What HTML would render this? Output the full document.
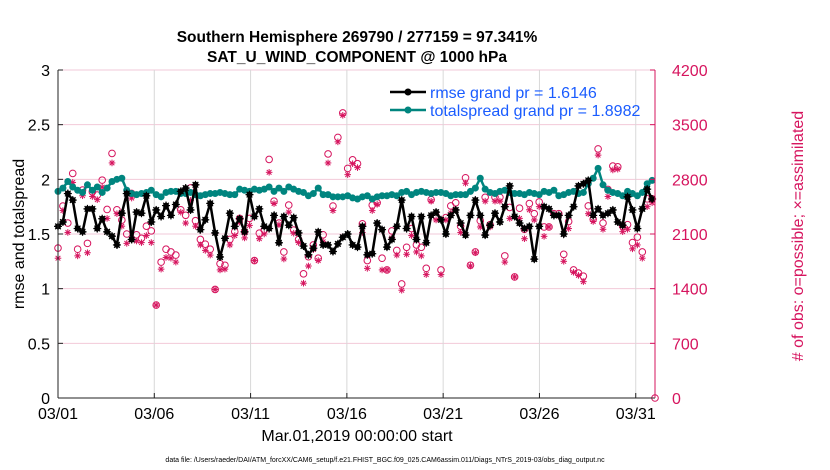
<!DOCTYPE html>
<html><head><meta charset="utf-8">
<style>
body{margin:0;background:#fff;}
svg{display:block;font-family:"Liberation Sans",sans-serif;}
</style></head>
<body>
<svg id="chart" width="830" height="470" viewBox="0 0 830 470" xmlns="http://www.w3.org/2000/svg">
<rect width="830" height="470" fill="#fff"/>
<g id="grid"></g>
<g id="marks"></g>
<g id="axes"></g>
<text x="357" y="42" text-anchor="middle" font-size="15.5" font-weight="bold">Southern Hemisphere 269790 / 277159 = 97.341%</text>
<text x="357" y="62" text-anchor="middle" font-size="15.5" font-weight="bold">SAT_U_WIND_COMPONENT @ 1000 hPa</text>
<text x="0" y="0" transform="translate(24,234) rotate(-90)" text-anchor="middle" font-size="16">rmse and totalspread</text>
<text x="0" y="0" transform="translate(803,236) rotate(-90)" text-anchor="middle" font-size="16" fill="#d6145e"># of obs: o=possible; ×=assimilated</text>
<text x="357" y="441" text-anchor="middle" font-size="16">Mar.01,2019 00:00:00 start</text>
<text x="385" y="462" text-anchor="middle" font-size="7">data file: /Users/raeder/DAI/ATM_forcXX/CAM6_setup/f.e21.FHIST_BGC.f09_025.CAM6assim.011/Diags_NTrS_2019-03/obs_diag_output.nc</text>
<g id="legend"></g>
</svg>
<script>
const rmse=[1.57,1.61,1.87,1.81,1.55,1.52,1.73,1.73,1.55,1.64,1.52,1.48,1.40,1.69,1.87,1.45,1.70,1.69,1.85,1.61,1.72,1.66,1.76,1.67,1.77,1.89,1.92,1.72,1.95,1.54,1.63,
1.78,1.51,1.29,1.46,1.69,1.57,1.64,1.52,1.86,1.66,1.73,1.57,1.55,1.67,1.42,1.66,1.58,1.65,1.51,1.39,1.31,1.37,1.52,1.40,1.40,1.34,1.41,
1.47,1.50,1.40,1.38,1.57,1.31,1.32,1.60,1.54,1.38,1.45,1.57,1.81,1.55,1.66,1.45,1.66,1.42,1.67,1.70,1.63,1.50,1.67,1.72,1.60,1.49,1.67,1.81,1.67,1.49,1.58,1.69,
1.61,1.75,1.94,1.66,1.60,1.55,1.57,1.27,1.57,1.75,1.73,1.67,1.67,1.50,1.67,1.75,1.94,1.96,1.99,1.67,1.73,1.67,1.69,1.72,1.61,1.58,1.84,1.72,1.55,1.73,1.91,1.82];
const spread=[1.89,1.92,1.98,1.93,1.90,1.88,1.95,1.90,1.93,1.88,1.92,1.98,2.00,2.01,1.90,1.87,1.86,1.87,1.88,1.90,1.86,1.84,1.88,1.89,1.89,1.87,1.87,1.88,1.86,1.85,1.86,
1.87,1.87,1.88,1.87,1.86,1.86,1.91,1.90,1.89,1.91,1.90,1.91,1.93,1.89,1.92,1.89,1.93,1.91,1.89,1.88,1.85,1.87,1.92,1.86,1.86,1.84,1.84,
1.84,1.85,1.83,1.82,1.84,1.85,1.82,1.84,1.85,1.85,1.86,1.85,1.88,1.89,1.86,1.88,1.89,1.88,1.87,1.88,1.88,1.87,1.85,1.86,1.86,1.86,1.89,1.92,2.01,1.91,1.88,1.87,
1.89,1.90,1.88,1.87,1.87,1.86,1.88,1.87,1.86,1.89,1.88,1.90,1.85,1.86,1.88,1.89,1.87,1.88,1.96,2.01,2.10,1.95,1.90,1.88,1.87,1.85,1.89,1.87,1.85,1.88,1.96,1.99];
const possible=[1920,2458,2240,2876,1905,2662,1980,2640,2598,2790,2414,3132,2410,2278,2100,2620,2090,2045,2200,2140,1190,1740,1905,1870,1830,2410,2340,2690,2270,2030,1970,
1905,1390,1720,1700,2030,2130,2300,2130,2300,1760,2110,2150,3055,2520,2240,1870,2470,2150,2030,1590,1810,1960,1790,2090,3125,2458,3337,
3650,2940,3050,3000,2230,1760,2470,2500,1790,1640,2140,1890,1460,1930,2170,1960,1930,1660,2540,2330,1640,2310,2460,2500,2200,2820,1700,1870,2270,2570,2220,2570,
2570,1820,2440,1550,2430,2160,2490,2360,2510,2190,2190,2360,2360,1840,2260,1640,1600,1560,2460,2290,3190,2240,2670,2970,2960,2200,2220,1990,2060,1870,2550,2550,0];
const assimilated=[1790,2400,2120,2760,1820,2590,1860,2580,2540,2700,2300,3010,2360,2200,1980,2560,2010,1990,2080,1990,1190,1650,1800,1790,1740,2380,2240,2530,2200,1960,1890,
1830,1390,1640,1650,1960,2080,2250,2050,2210,1760,2040,2100,2890,2490,2220,1780,2380,2110,1990,1470,1690,1900,1760,2000,3010,2400,3280,
3620,2860,3000,2950,2120,1660,2400,2480,1640,1640,2050,1830,1380,1840,2080,1870,1820,1580,2520,2280,1580,2280,2370,2410,2120,2750,1690,1860,2190,2520,2190,2520,
2520,1740,2300,1550,2300,2040,2410,2280,2450,2070,2190,2350,2330,1750,2170,1610,1570,1490,2360,2260,3110,2160,2580,2920,2930,2130,2160,1910,1960,1790,2450,2500];
const xTickDays=[0,5,10,15,20,25,30];
const xTickLabels=["03/01","03/06","03/11","03/16","03/21","03/26","03/31"];
const leftTicks=[0,0.5,1,1.5,2,2.5,3];
const leftTickLabels=["0","0.5","1","1.5","2","2.5","3"];
const rightTicks=[0,700,1400,2100,2800,3500,4200];
const legendLabels=["rmse grand pr = 1.6146","totalspread grand pr = 1.8982"];

const NS="http://www.w3.org/2000/svg";
const X0=58,X1=655,Y0=398,Y1=70,RED="#d6145e",TEAL="#00857f";
const xs=d=>X0+(d/31)*(X1-X0);
const yL=v=>Y0-(v/3)*(Y0-Y1);
const yR=v=>Y0-(v/4200)*(Y0-Y1);
const dayOf=i=>i*30.85/121;
function mk(tag,attrs,parent){const e=document.createElementNS(NS,tag);for(const k in attrs)e.setAttribute(k,attrs[k]);parent.appendChild(e);return e;}
const grid=document.getElementById('grid'),marks=document.getElementById('marks'),axes=document.getElementById('axes'),legend=document.getElementById('legend');

leftTicks.forEach((t,i)=>{
  const g=mk('line',{x1:X0,x2:X1,y1:yL(t),y2:yL(t),stroke:"#f2c9d8","stroke-width":1},grid);
  
  
  const tk=mk('line',{x1:X0,x2:X0+5,y1:yL(t),y2:yL(t),stroke:"#222"},axes);
  
  
  const tx=mk('text',{x:X0-8,y:yL(t)+6,"text-anchor":"end","font-size":16},axes);
  tx.textContent=leftTickLabels[i];
  
  
});
rightTicks.forEach(t=>{
  const tk=mk('line',{x1:X1-5,x2:X1,y1:yR(t),y2:yR(t),stroke:RED},axes);
  
  
  const tx=mk('text',{x:X1+17,y:yR(t)+6,"font-size":16,fill:RED},axes);
  tx.textContent=String(t);
  
  
});
xTickDays.forEach((d,i)=>{
  const g=mk('line',{x1:xs(d),x2:xs(d),y1:Y1,y2:Y0,stroke:"#d8d8d8","stroke-width":1},grid);
  
  
  const tk=mk('line',{x1:xs(d),x2:xs(d),y1:Y0,y2:Y0-5,stroke:"#222"},axes);
  
  
  const tx=mk('text',{x:xs(d),y:Y0+21,"text-anchor":"middle","font-size":16},axes);
  tx.textContent=xTickLabels[i];
  
  
});
[[X0,Y0,X1,Y0,"#222"],[X0,Y1,X0,Y0,"#222"],[X1,Y1,X1,Y0,RED]].forEach(a=>{
  const l=mk('line',{x1:a[0],y1:a[1],x2:a[2],y2:a[3],stroke:a[4],"stroke-width":1},axes);
  
  
});

function star(cx,cy,r,color,parent,sw){
  const g=mk('g',{stroke:color,"stroke-width":sw},parent);
  for(let k=0;k<4;k++){const a=k*Math.PI/4;mk('line',{x1:cx-r*Math.cos(a),y1:cy-r*Math.sin(a),x2:cx+r*Math.cos(a),y2:cy+r*Math.sin(a)},g);}
  return g;
}
possible.forEach((v,i)=>{
  const d=i<122?dayOf(i):31;
  const c=mk('circle',{cx:xs(d),cy:yR(v),r:3.3,fill:"none",stroke:RED,"stroke-width":1},marks);
  
  
});
assimilated.forEach((v,i)=>{
  const s=star(xs(dayOf(i)),yR(v),3.3,RED,marks,1);
  
  
});
const sp=mk('polyline',{points:spread.map((v,i)=>xs(dayOf(i))+","+yL(v)).join(" "),fill:"none",stroke:TEAL,"stroke-width":2.5},marks);


spread.forEach((v,i)=>{
  const c=mk('circle',{cx:xs(dayOf(i)),cy:yL(v),r:3.5,fill:TEAL},marks);
  
  
});
const rl=mk('polyline',{points:rmse.map((v,i)=>xs(dayOf(i))+","+yL(v)).join(" "),fill:"none",stroke:"#000","stroke-width":2.5},marks);


rmse.forEach((v,i)=>{
  const c=mk('circle',{cx:xs(dayOf(i)),cy:yL(v),r:3,fill:"#000"},marks);
  
  
  star(xs(dayOf(i)),yL(v),4,"#000",marks,1.2);
});
[["#000",92],[TEAL,110]].forEach((e,i)=>{
  const l=mk('line',{x1:390,x2:426,y1:e[1],y2:e[1],stroke:e[0],"stroke-width":2.5},legend);
  
  
  const c=mk('circle',{cx:408,cy:e[1],r:3.5,fill:e[0]},legend);
  
  
  const t=mk('text',{x:430,y:e[1]+6,"font-size":16,fill:"#1a5cff"},legend);
  t.textContent=legendLabels[i];
  
  
});
</script>
</body></html>
